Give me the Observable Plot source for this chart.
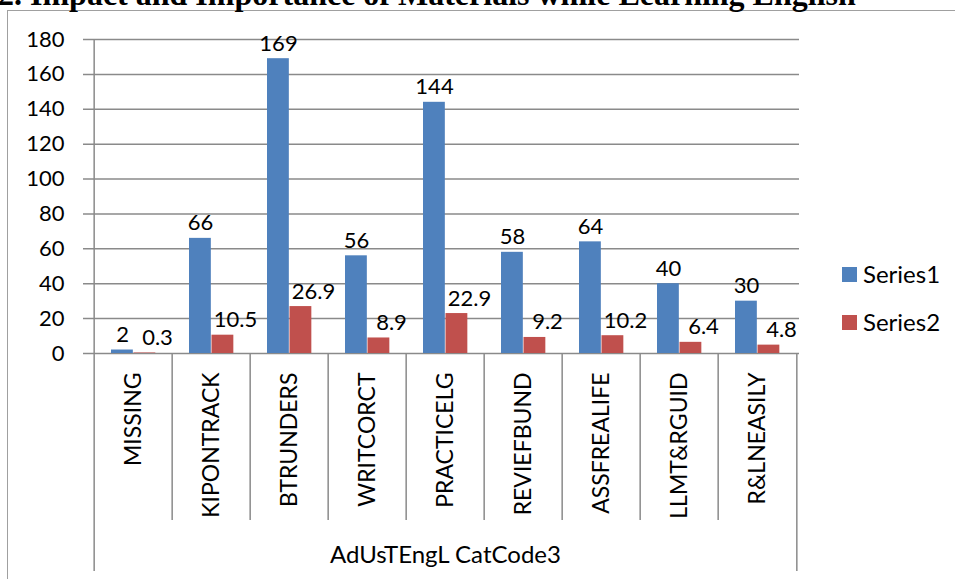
<!DOCTYPE html>
<html>
<head>
<meta charset="utf-8">
<script src="https://cdn.jsdelivr.net/npm/d3@7"></script>
<script src="https://cdn.jsdelivr.net/npm/@observablehq/plot@0.6"></script>
<style>
  body { margin: 0; background: #fff; }
  #wrap { position: relative; width: 955px; height: 579px; overflow: hidden; background: #fff; }
  #frame { position: absolute; left: 7px; top: 10px; width: 990px; height: 600px; box-sizing: border-box;
           border-left: 1.5px solid #a0a0a0; border-top: 1.5px solid #a0a0a0; }
  #title { position: absolute; left: -2px; top: -22px; font: bold 32px "Liberation Serif", serif;
           line-height: 32px; white-space: nowrap; color: #000; }
  #chart { position: absolute; left: 0; top: 0; }
  .lg { position: absolute; left: 842px; width: 15px; height: 15px; }
  .lt { position: absolute; left: 863px; font: 24px Lato, sans-serif; line-height: 24px; color: #000; white-space: nowrap; }
</style>
</head>
<body>
<div id="wrap">
  <div id="frame"></div>
  <div id="title"></div>
  <div id="chart"></div>
  <div id="legend"></div>
</div>
<script>
const title = "2. Impact and Importance of Materials while Learning English";
const categories = ["MISSING", "KIPONTRACK", "BTRUNDERS", "WRITCORCT", "PRACTICELG", "REVIEFBUND", "ASSFREALIFE", "LLMT&RGUID", "R&LNEASILY"];
const series1 = [2, 66, 169, 56, 144, 58, 64, 40, 30];
const series2 = [0.3, 10.5, 26.9, 8.9, 22.9, 9.2, 10.2, 6.4, 4.8];
const seriesNames = ["Series1", "Series2"];
const seriesColors = ["#4F81BD", "#C0504D"];
const yTicks = [0, 20, 40, 60, 80, 100, 120, 140, 160, 180];
const xAxisTitle = "AdUsTEngL CatCode3";

document.getElementById("title").textContent = title;

const W = 955, H = 579;
const mL = 91, mR = 156, mT = 39, mB = 226;
const bw = (W - mL - mR) / categories.length;
const barW = 22.5, pad = 17;

const rows1 = categories.map((c, i) => ({category: c, value: series1[i]}));
const rows2 = categories.map((c, i) => ({category: c, value: series2[i]}));
const gridColor = "#8a8a8a";

const chart = Plot.plot({
  width: W, height: H,
  marginLeft: mL, marginRight: mR, marginTop: mT, marginBottom: mB,
  style: {fontFamily: "Lato, sans-serif", fontSize: "22px", color: "#000", background: "transparent", overflow: "visible"},
  x: {type: "band", domain: categories, padding: 0, axis: null},
  y: {domain: [0, 180], axis: null},
  marks: [
    Plot.ruleY(yTicks, {stroke: gridColor, strokeWidth: 1.5, insetLeft: -8}),
    Plot.axisY(yTicks, {tickSize: 0, tickPadding: 27, fontSize: 22, label: null, fill: "#000"}),
    Plot.ruleX([categories[0]], {x: d => d, dx: -bw / 2, stroke: gridColor, strokeWidth: 1.5, insetBottom: -218}),
    Plot.ruleX([categories[categories.length - 1]], {x: d => d, y1: () => 0, y2: () => 0, dx: bw / 2, stroke: gridColor, strokeWidth: 1.5, insetBottom: -218}),
    Plot.ruleX(categories.slice(1), {x: d => d, y1: () => 0, y2: () => 0, dx: -bw / 2, stroke: gridColor, strokeWidth: 1.5, insetBottom: -167}),
    Plot.barY(rows1, {x: "category", y: "value", fill: seriesColors[0], insetLeft: pad, insetRight: bw - pad - barW}),
    Plot.barY(rows2, {x: "category", y: "value", fill: seriesColors[1], insetLeft: pad + barW, insetRight: bw - pad - 2 * barW}),
    Plot.text(rows1, {x: "category", y: "value", text: d => String(d.value), dx: -11, dy: -8, lineAnchor: "bottom", fontSize: 22, fill: "#000"}),
    Plot.text(rows2, {x: "category", y: "value", text: d => String(d.value), dx: 24, dy: -8, lineAnchor: "bottom", fontSize: 22, fill: "#000"}),
    Plot.text(categories, {x: d => d, text: d => d, frameAnchor: "bottom", dy: 19, rotate: -90, textAnchor: "end", lineAnchor: "middle", fontSize: 23, fill: "#000"}),
    Plot.text([xAxisTitle], {text: d => d, frameAnchor: "bottom", dy: 209, lineAnchor: "bottom", fontSize: 24, fill: "#000"})
  ]
});
document.getElementById("chart").appendChild(chart);

const legend = document.getElementById("legend");
const legendTops = [267, 315];
seriesNames.forEach((name, i) => {
  const sw = document.createElement("div");
  sw.className = "lg";
  sw.style.top = legendTops[i] + "px";
  sw.style.background = seriesColors[i];
  legend.appendChild(sw);
  const t = document.createElement("div");
  t.className = "lt";
  t.style.top = (legendTops[i] - 5.5) + "px";
  t.textContent = name;
  legend.appendChild(t);
});
</script>
</body>
</html>
